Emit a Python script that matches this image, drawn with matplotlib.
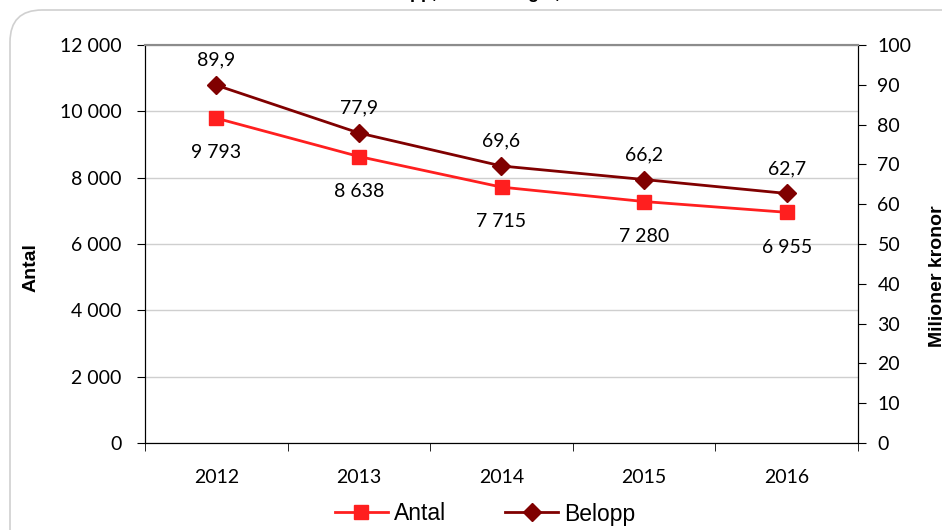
import matplotlib
matplotlib.use("Agg")
import matplotlib.pyplot as plt
from matplotlib.patches import FancyBboxPatch
from matplotlib.lines import Line2D
from matplotlib.ticker import FuncFormatter, FixedLocator

years = ["2012", "2013", "2014", "2015", "2016"]
antal = [9793, 8638, 7715, 7280, 6955]
belopp = [89.9, 77.9, 69.6, 66.2, 62.7]

FONT = "Lato"
RED = "#FF1F1F"
DARK = "#800000"

W, H = 942, 530
fig = plt.figure(figsize=(W / 100, H / 100), dpi=100)
fig.patch.set_facecolor("white")

# rounded chart border (pixel coordinates, extends beyond right/bottom edge)
box = FancyBboxPatch((10, -40), 980, H - 10 + 40,
                     boxstyle="round,pad=0,rounding_size=32",
                     transform=None, facecolor="none",
                     edgecolor="#D0D0D0", linewidth=1.2, zorder=-10)
fig.patches.append(box)

# title, clipped by the top edge as in the reference
fig.text(0.5, 1.0 + 2.5 / H, "Antal och belopp, utbetalningar, 2012–2016",
         ha="center", va="baseline", fontsize=13, fontweight="bold",
         family="Liberation Sans")

ax = fig.add_axes([145 / W, 1 - 443 / H, (858 - 145) / W, (443 - 45) / H])
ax2 = ax.twinx()
ax.patch.set_visible(False)
ax2.patch.set_visible(False)

x = list(range(len(years)))
ax.plot(x, antal, color=RED, lw=2, marker="s", ms=10.5, zorder=3)
ax2.plot(x, belopp, color=DARK, lw=2, marker="D", ms=9, zorder=3)

ax.set_xlim(-0.5, len(years) - 0.5)
ax.set_ylim(0, 12000)
ax2.set_ylim(0, 100)

ax.set_yticks(range(0, 12001, 2000))
ax2.set_yticks(range(0, 101, 10))
ax.yaxis.set_major_formatter(FuncFormatter(lambda v, p: f"{int(v):,}".replace(",", " ")))
ax.grid(axis="y", color="#CFCFCF", lw=1)
ax.set_axisbelow(True)

ax.set_xticks(x)
ax.set_xticklabels(years)
ax.xaxis.set_minor_locator(FixedLocator([i - 0.5 for i in range(len(years) + 1)]))
ax.tick_params(axis="x", which="major", length=0, pad=19)
ax.tick_params(axis="x", which="minor", length=6, direction="out", color="black")
ax.tick_params(axis="y", length=6, direction="out", color="black", pad=11)
ax2.tick_params(axis="y", length=6, direction="out", color="black", pad=8)

for a in (ax, ax2):
    a.spines["top"].set_color("#8C8C8C")
    a.spines["top"].set_linewidth(1.5)
    a.spines["left"].set_color("black")
    a.spines["right"].set_color("black")
    a.spines["bottom"].set_color("black")
    for lbl in a.get_xticklabels() + a.get_yticklabels():
        lbl.set_family(FONT)
        lbl.set_fontsize(14)

for xi, v in zip(x, antal):
    ax.annotate(f"{v:,}".replace(",", " "), (xi, v), xytext=(0, -25),
                textcoords="offset points", ha="center", va="center",
                fontsize=14, family=FONT)
for xi, v in zip(x, belopp):
    ax2.annotate(f"{v:.1f}".replace(".", ","), (xi, v), xytext=(0, 18),
                 textcoords="offset points", ha="center", va="center",
                 fontsize=14, family=FONT)

fig.text(31 / W, 1 - 268 / H, "Antal", rotation=90, ha="center", va="center",
         fontsize=14, fontweight="bold", family="Liberation Sans")
fig.text(937 / W, 1 - 276 / H, "Miljoner kronor", rotation=90, ha="center",
         va="center", fontsize=14, fontweight="bold", family="Liberation Sans")

handles = [Line2D([], [], color=RED, lw=2, marker="s", ms=10.5),
           Line2D([], [], color=DARK, lw=2, marker="D", ms=9)]
fig.legend(handles, ["Antal", "Belopp"], loc="center",
           bbox_to_anchor=(485 / W, 1 - 514 / H), ncol=2, frameon=False,
           prop={"family": "Liberation Sans", "size": 16.5},
           handlelength=2.3, columnspacing=2.6, handletextpad=0.25,
           borderpad=0.2)

fig.savefig("out.png", dpi=100, facecolor="white")
